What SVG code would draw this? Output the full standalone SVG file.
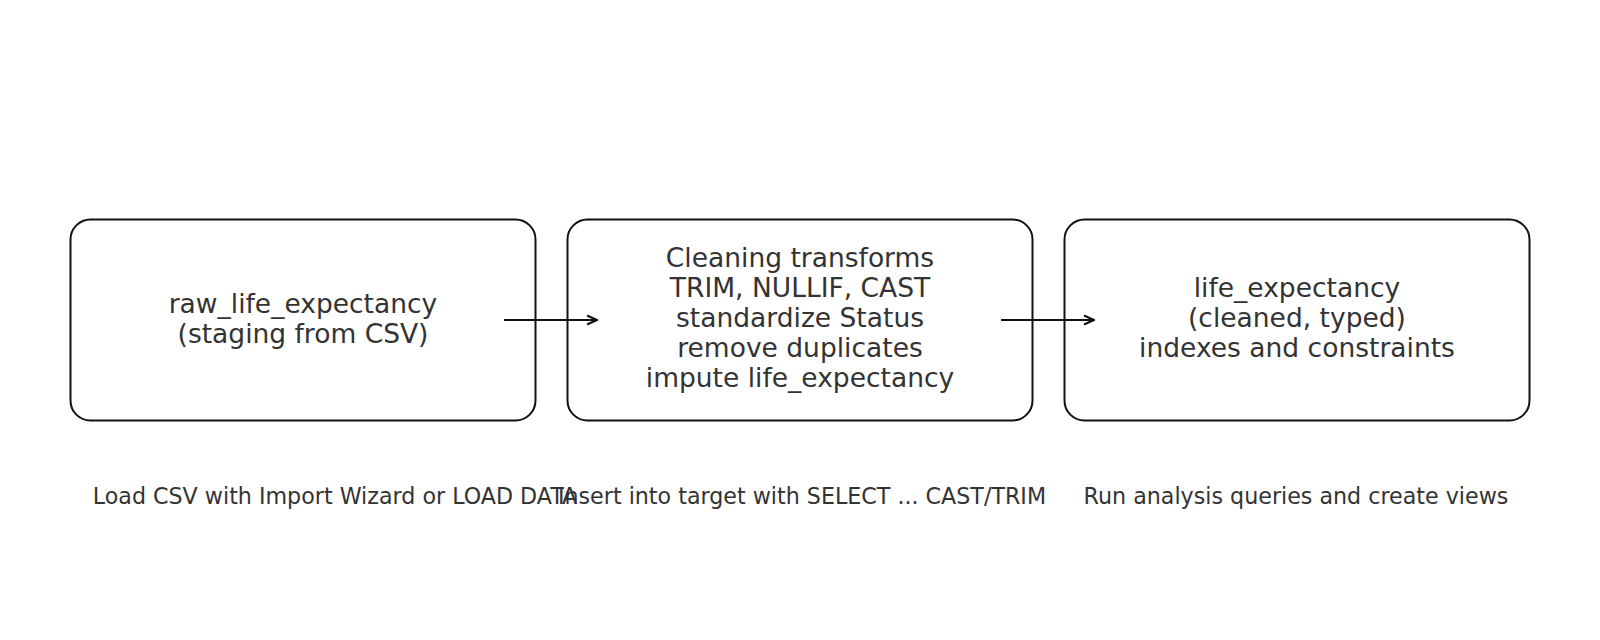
<svg xmlns="http://www.w3.org/2000/svg" width="1600" height="640" viewBox="0 0 1600 640">
<defs>
<marker id="arr" viewBox="0 0 12 12" refX="11" refY="6" markerWidth="12" markerHeight="12" markerUnits="userSpaceOnUse" orient="auto">
<path d="M1,1.5 L11,6 L1,10.5" fill="none" stroke="#111" stroke-width="2"/>
</marker>
</defs>
<style>
.box{fill:#fff;stroke:#111;stroke-width:2}
.t{font-family:"DejaVu Sans",sans-serif;font-size:26.5px;fill:#333;text-anchor:middle}
.s{font-family:"DejaVu Sans",sans-serif;font-size:22.2px;fill:#333;text-anchor:middle}
.c{stroke:#111;stroke-width:2;fill:none}
</style>
<rect width="1600" height="640" fill="#fff"/>
<g id="node-raw">
<rect class="box" x="70.5" y="219.5" width="465" height="201" rx="20" ry="20"/>
<text class="t" x="303" y="312.5">raw_life_expectancy</text>
<text class="t" x="303" y="342.5">(staging from CSV)</text>
</g>
<g id="node-clean">
<rect class="box" x="567.5" y="219.5" width="465" height="201" rx="20" ry="20"/>
<text class="t" x="800" y="266.6">Cleaning transforms</text>
<text class="t" x="800" y="296.7">TRIM, NULLIF, CAST</text>
<text class="t" x="800" y="326.8">standardize Status</text>
<text class="t" x="800" y="356.9">remove duplicates</text>
<text class="t" x="800" y="387">impute life_expectancy</text>
</g>
<g id="node-final">
<rect class="box" x="1064.5" y="219.5" width="465" height="201" rx="20" ry="20"/>
<text class="t" x="1297" y="296.7">life_expectancy</text>
<text class="t" x="1297" y="326.8">(cleaned, typed)</text>
<text class="t" x="1297" y="356.9">indexes and constraints</text>
</g>
<g id="connectors">
<line class="c" x1="504" y1="320" x2="597" y2="320" marker-end="url(#arr)"/>
<line class="c" x1="1001" y1="320" x2="1094" y2="320" marker-end="url(#arr)"/>
</g>
<g id="labels">
<text class="s" x="335" y="504">Load CSV with Import Wizard or LOAD DATA</text>
<text class="s" x="802" y="504">Insert into target with SELECT ... CAST/TRIM</text>
<text class="s" x="1296" y="504">Run analysis queries and create views</text>
</g>
</svg>
